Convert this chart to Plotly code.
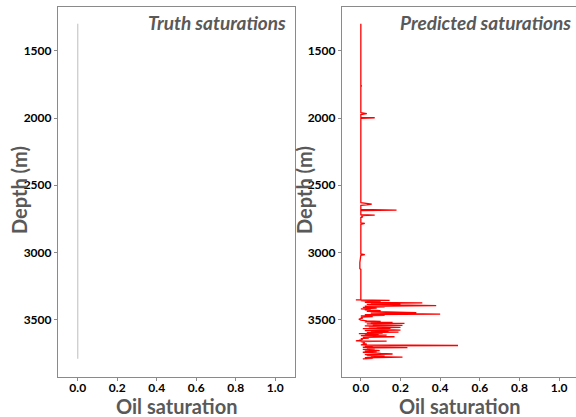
import plotly.graph_objects as go

# ---- data ----
truth_depth = [1300, 3790]
truth_sat = [0.0, 0.0]

pred_depth = [1300, 1760, 1762, 1765, 1960, 1968, 1975, 1995, 1998, 2002,
              2630, 2636, 2640, 2645, 2650, 2680, 2684, 2688, 2718, 2722, 2726,
              2735, 2740, 2780, 2784, 2790, 3010, 3015, 3020, 3075, 3120, 3125, 3350,
              3352, 3355, 3358, 3362, 3366, 3370, 3374, 3377, 3381, 3385, 3390, 3395,
              3399, 3404, 3408, 3413, 3418, 3422, 3426, 3432, 3437, 3441, 3446, 3450,
              3454, 3458, 3462, 3467, 3471, 3476, 3480, 3488, 3495, 3502, 3508, 3512,
              3515, 3519, 3523, 3527, 3530, 3534, 3538, 3542, 3545, 3549, 3552, 3556,
              3559, 3563, 3566, 3570, 3573, 3577, 3580, 3584, 3588, 3591, 3595, 3599,
              3602, 3606, 3610, 3614, 3618, 3622, 3626, 3630, 3635, 3640, 3646, 3652,
              3656, 3658, 3662, 3668, 3674, 3680, 3686, 3691, 3694, 3699, 3704, 3707,
              3711, 3716, 3720, 3725, 3729, 3733, 3737, 3741, 3745, 3750, 3754, 3758,
              3762, 3766, 3770, 3774, 3778, 3782, 3786, 3790]
pred_sat = [0.0, 0.0, 0.005, 0.0, 0.0, 0.03, 0.0, 0.0, 0.07, 0.0,
            0.0, 0.05, 0.055, 0.03, 0.0, 0.0, 0.18, 0.0, 0.0, 0.07, 0.0,
            0.01, 0.0, 0.0, 0.02, 0.0, 0.0, 0.02, 0.0, -0.005, -0.005, 0.0, 0.0,
            -0.025, 0.145, 0.0, 0.05, 0.1, 0.02, 0.31, 0.05, 0.2, 0.03, 0.15, 0.38,
            0.02, 0.12, 0.01, 0.08, 0.0, 0.05, 0.02, 0.1, 0.03, 0.15, 0.28, 0.05,
            0.2, 0.40, 0.02, 0.12, 0.0, 0.06, 0.0, 0.01, -0.01, 0.0, 0.03, 0.1,
            0.02, 0.16, 0.05, 0.22, 0.03, 0.12, 0.06, 0.21, 0.02, 0.1, 0.04, 0.2,
            0.08, 0.15, 0.01, 0.12, 0.06, 0.2, 0.02, 0.14, 0.05, 0.19, 0.03, 0.11,
            -0.01, 0.09, 0.02, 0.13, 0.0, 0.06, 0.17, 0.01, 0.04, 0.0, 0.01, -0.01,
            -0.025, 0.13, 0.0, 0.02, 0.01, 0.03, 0.0, 0.49, 0.02, 0.06, 0.01, 0.235,
            0.03, 0.07, 0.01, 0.05, 0.095, 0.02, 0.08, 0.01, 0.04, 0.1, 0.16, 0.02,
            0.07, 0.03, 0.12, 0.05, 0.21, 0.02, 0.06, 0.01]

depth_ticks = [1500, 2000, 2500, 3000, 3500]
sat_ticks = [0.0, 0.2, 0.4, 0.6, 0.8, 1.0]
sat_tick_labels = ["0.0", "0.2", "0.4", "0.6", "0.8", "1.0"]
panel_titles = ["Truth saturations", "Predicted saturations"]

# ---- figure ----
W, H = 576, 417
ML, MR, MT, MB = 58, 0, 7, 40
PW = W - ML - MR

def px(x):
    return (x - ML) / PW

def py(y):
    return 1 - (y - MT) / (H - MT - MB)

FONT = "Lato"
GRAY = "#595959"
LINE = "#8a8a8a"

fig = go.Figure()
fig.add_trace(go.Scatter(x=truth_sat, y=truth_depth, mode="lines",
                         line=dict(color="#c8c8c8", width=1.2),
                         xaxis="x", yaxis="y", showlegend=False, hoverinfo="skip"))
fig.add_trace(go.Scatter(x=pred_sat, y=pred_depth, mode="lines",
                         line=dict(color="#ff0000", width=1.3),
                         xaxis="x2", yaxis="y2", showlegend=False, hoverinfo="skip"))

tickfont = dict(family=FONT, size=12, color="black", weight="bold")
common_x = dict(tickvals=sat_ticks, ticktext=sat_tick_labels, showgrid=False,
                zeroline=False, showline=True, mirror=True, linecolor=LINE,
                linewidth=1.2, ticks="outside", ticklen=3, tickcolor=LINE,
                tickfont=tickfont, ticklabelstandoff=-4)
common_y = dict(tickvals=depth_ticks, range=[3925, 1175], showgrid=False,
                zeroline=False, showline=True, mirror=True, linecolor=LINE,
                linewidth=1.2, ticks="outside", ticklen=3, tickcolor=LINE,
                tickfont=tickfont)

fig.update_layout(
    width=W, height=H,
    margin=dict(l=ML, r=MR, t=MT, b=MB),
    paper_bgcolor="white", plot_bgcolor="white",
    xaxis=dict(domain=[0, px(295)], range=[-0.1, 1.1], anchor="y", **common_x),
    yaxis=dict(domain=[0, 1], anchor="x", **common_y),
    xaxis2=dict(domain=[px(342), 1], range=[-0.095, 1.085], anchor="y2", **common_x),
    yaxis2=dict(domain=[0, 1], anchor="x2", **common_y),
)

title_font = dict(family=FONT, size=19, color=GRAY)
axis_title_font = dict(family=FONT, size=20, color=GRAY)

annotations = [
    dict(text="<b><i>" + panel_titles[0] + "</i></b>", x=px(288), y=py(22),
         xanchor="right", yanchor="middle", font=title_font),
    dict(text="<b><i>" + panel_titles[1] + "</i></b>", x=px(573), y=py(22),
         xanchor="right", yanchor="middle", font=title_font),
    dict(text="<b>Depth (m)</b>", x=px(19), y=py(190), textangle=-90,
         xanchor="center", yanchor="middle", font=axis_title_font),
    dict(text="<b>Depth (m)</b>", x=px(304), y=py(190), textangle=-90,
         xanchor="center", yanchor="middle", font=axis_title_font),
    dict(text="<b>Oil saturation</b>", x=px(176), y=py(406),
         xanchor="center", yanchor="middle", font=axis_title_font),
    dict(text="<b>Oil saturation</b>", x=px(459), y=py(406),
         xanchor="center", yanchor="middle", font=axis_title_font),
]
for a in annotations:
    a.update(xref="paper", yref="paper", showarrow=False)
fig.update_layout(annotations=annotations)

fig.write_html("out.html", config={"displayModeBar": False},
               post_script="document.body.style.margin='0px';document.body.style.overflow='hidden';")
